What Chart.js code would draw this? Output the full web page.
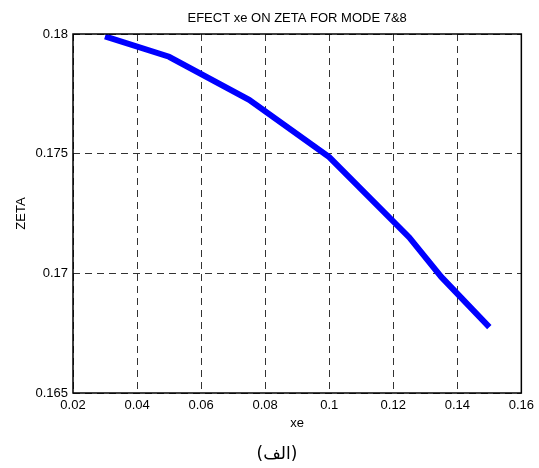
<!DOCTYPE html>
<html>
<head>
<meta charset="utf-8">
<script src="https://cdn.jsdelivr.net/npm/chart.js@4/dist/chart.umd.min.js"></script>
<style>
  body { margin: 0; background: #fff; }
  #wrap { position: relative; width: 539px; height: 468px; }
  #caption {
    position: absolute; left: 0; width: 554px; top: 443px;
    text-align: center; font: 17px "DejaVu Sans", sans-serif; color: #000;
  }
</style>
</head>
<body>
<div id="wrap">
  <canvas id="chart" width="539" height="468"></canvas>
  <div id="caption" dir="rtl">(الف)</div>
</div>
<script>
// damping ratio against xe
let xe = [0.03, 0.05, 0.075, 0.1, 0.125, 0.135, 0.15];
let zeta = [0.1799, 0.17905, 0.17725, 0.17486, 0.1715, 0.16985, 0.16775];

let xTicks = [0.02, 0.04, 0.06, 0.08, 0.1, 0.12, 0.14, 0.16];
let xTickLabels = ['0.02', '0.04', '0.06', '0.08', '0.1', '0.12', '0.14', '0.16'];
let yTicks = [0.165, 0.17, 0.175, 0.18];
let yTickLabels = ['0.165', '0.17', '0.175', '0.18'];

const font = { family: "'Liberation Sans', Arial, sans-serif", size: 13 };

// solid frame round the plot area
const frame = {
  id: 'frame',
  afterDraw(chart) {
    const a = chart.chartArea;
    const c = chart.ctx;
    c.save();
    c.strokeStyle = '#000';
    c.lineWidth = 1.5;
    c.strokeRect(a.left, a.top, a.right - a.left, a.bottom - a.top);
    c.restore();
  }
};

const gridStyle = {
  color: '#333',
  lineWidth: 1,
  drawTicks: false
};

new Chart(document.getElementById('chart'), {
  type: 'line',
  data: {
    datasets: [{
      data: xe.map((x, i) => ({ x: x, y: zeta[i] })),
      borderColor: '#0000ff',
      borderWidth: 6,
      pointRadius: 0,
      tension: 0,
      fill: false
    }]
  },
  options: {
    responsive: false,
    animation: false,
    layout: { padding: { left: 0, right: 17, top: 0, bottom: 35 } },
    plugins: {
      legend: { display: false },
      tooltip: { enabled: false },
      title: {
        display: true,
        text: 'EFECT xe ON ZETA FOR MODE 7&8',
        fullSize: false,
        color: '#000',
        font: { ...font, weight: 'normal' },
        padding: { top: 10.5, bottom: 7.9 }
      }
    },
    scales: {
      x: {
        type: 'linear',
        min: 0.02,
        max: 0.16,
        afterBuildTicks: s => { s.ticks = xTicks.map(v => ({ value: v })); },
        afterFit: s => { s.height = 40; },
        ticks: {
          color: '#000', font: font, padding: 5, maxRotation: 0,
          callback: (v, i) => xTickLabels[i]
        },
        grid: gridStyle,
        border: { display: false, dash: [7, 5] },
        title: { display: true, text: 'xe', color: '#000', font: font, padding: 2 }
      },
      y: {
        type: 'linear',
        min: 0.165,
        max: 0.18,
        afterBuildTicks: s => { s.ticks = yTicks.map(v => ({ value: v })); },
        afterFit: s => { s.width = 73; },
        ticks: {
          color: '#000', font: font, padding: 5,
          callback: (v, i) => yTickLabels[i]
        },
        grid: gridStyle,
        border: { display: false, dash: [7, 5] },
        title: { display: true, text: 'ZETA', color: '#000', font: font, padding: 14 }
      }
    }
  },
  plugins: [frame]
});
</script>
</body>
</html>
